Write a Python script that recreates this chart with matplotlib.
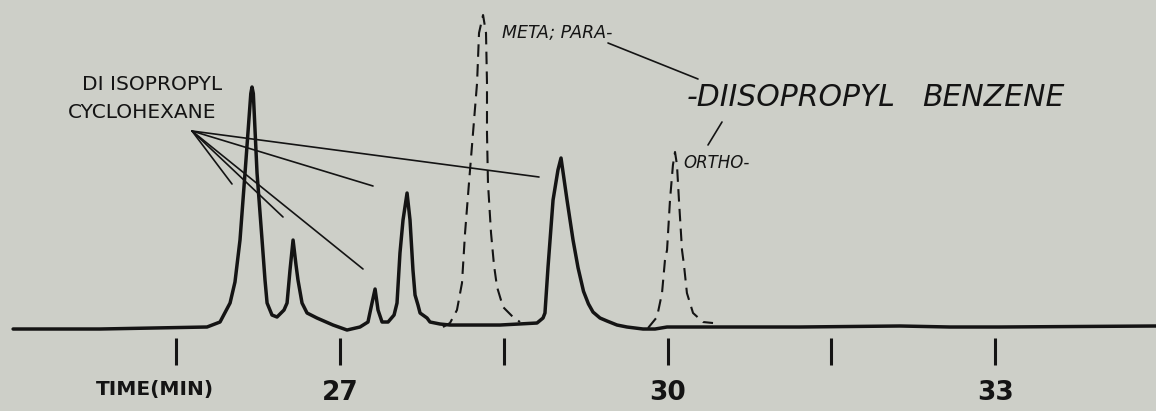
import matplotlib
matplotlib.use("Agg")
import matplotlib.pyplot as plt
from matplotlib.lines import Line2D

# ---- data (time in min, response in % of largest peak) ----
solid_time = [24.006, 24.80, 25.782, 25.901, 25.993, 26.038, 26.084, 26.130, 26.183, 26.194,
              26.206, 26.240, 26.286, 26.313, 26.332, 26.377, 26.423, 26.487, 26.515, 26.542,
              26.570, 26.597, 26.615, 26.652, 26.698, 26.789, 26.936, 27.064, 27.183, 27.256,
              27.293, 27.321, 27.348, 27.385, 27.440, 27.495, 27.522, 27.549, 27.577, 27.614,
              27.641, 27.668, 27.687, 27.714, 27.733, 27.797, 27.824, 27.916, 28.007, 28.465,
              28.804, 28.859, 28.877, 28.905, 28.951, 28.996, 29.024, 29.079, 29.134, 29.180,
              29.230, 29.275, 29.317, 29.381, 29.445, 29.537, 29.628, 29.775, 29.885, 29.995,
              31.212, 32.128, 32.586, 33.044, 34.473]
solid_resp = [0.0, 0.0, 0.64, 2.23, 8.28, 14.97, 28.34, 49.68, 75.0, 77.07,
              75.0, 49.68, 28.34, 15.6, 8.28, 4.46, 3.82, 6.05, 8.28, 18.79,
              28.34, 20.38, 15.6, 8.28, 5.10, 3.50, 1.27, -0.32, 0.64, 2.23,
              8.28, 12.74, 6.05, 2.23, 2.23, 4.46, 8.28, 24.20, 34.71, 43.31,
              34.71, 18.79, 10.83, 7.64, 5.10, 3.50, 2.23, 1.59, 1.27, 1.27,
              1.91, 3.50, 5.10, 19.75, 41.08, 50.64, 54.46, 41.08, 28.34, 19.5,
              12.0, 8.0, 5.4, 3.50, 2.55, 1.27, 0.64, 0.0, 0.0, 0.64,
              0.64, 0.96, 0.64, 0.64, 0.96]

metapara_time = [27.943, 28.007, 28.071, 28.117, 28.145, 28.181, 28.218, 28.255, 28.273, 28.310,
                 28.337, 28.346, 28.346, 28.355, 28.383, 28.410, 28.438, 28.493, 28.584, 28.648]
metapara_resp = [0.64, 1.91, 6.05, 14.65, 30.57, 46.50, 62.42, 78.34, 94.27, 100.0,
                 94.27, 78.34, 62.42, 46.50, 30.57, 20.38, 13.38, 7.01, 3.82, 2.23]

ortho_time = [29.821, 29.903, 29.949, 29.976, 29.995, 30.022, 30.049, 30.068, 30.086, 30.104,
              30.132, 30.150, 30.177, 30.233, 30.324, 30.416]
ortho_resp = [0.32, 3.82, 11.46, 21.97, 25.16, 41.08, 52.23, 56.37, 52.23, 41.08,
              25.16, 20.38, 11.46, 5.10, 2.23, 1.91]

tick_times = [25.5, 27, 28.5, 30, 31.5, 33]
tick_labels = ["", "27", "", "30", "", "33"]

# ---- styling ----
W, H = 1156, 411
BG = "#cdcfc8"
INK = "#141414"
NARROW = ["Liberation Sans Narrow", "DejaVu Sans"]

fig = plt.figure(figsize=(W / 100, H / 100), dpi=100, facecolor=BG)
ax = fig.add_axes([0, 0, 1, 1], facecolor=BG)
ax.set_xlim(23.886, 34.473)
ax.set_ylim(-26.11, 104.78)

ax.plot(solid_time, solid_resp, color=INK, lw=2.5, solid_joinstyle="round",
        solid_capstyle="round")
ax.plot(metapara_time, metapara_resp, color=INK, lw=1.5, linestyle=(0, (6, 3.5)))
ax.plot(ortho_time, ortho_resp, color=INK, lw=1.5, linestyle=(0, (6, 3.5)))

for side in ["top", "left", "right"]:
    ax.spines[side].set_visible(False)
ax.spines["bottom"].set_position(("data", -2.9))
ax.spines["bottom"].set_visible(False)
ax.set_yticks([])
ax.set_xticks(tick_times)
ax.set_xticklabels(tick_labels, fontsize=19, fontweight="bold", color=INK)
ax.tick_params(axis="x", direction="out", length=19.5, width=2.2, color=INK, pad=11)


def px(x, y):
    return (x / W, 1 - y / H)


def leader(p0, p1, lw=1.2):
    (x0, y0), (x1, y1) = px(*p0), px(*p1)
    ax.add_line(Line2D([x0, x1], [y0, y1], transform=ax.transAxes, color=INK, lw=lw,
                       solid_capstyle="round"))


hub = (192, 131)
for end in [(539, 177), (373, 186), (363, 269), (283, 217), (232, 184)]:
    leader(hub, end)
leader((608, 43), (698, 79))
leader((722, 122), (708, 145))


def label(x, y, s, **kw):
    ax.text(*px(x, y), s, transform=ax.transAxes, color=INK, va="baseline", **kw)


label(82, 90, "DI ISOPROPYL", fontsize=14.5, ha="left")
label(68, 118, "CYCLOHEXANE", fontsize=14.5, ha="left")
label(502, 38, "META; PARA-", fontsize=12.5, style="italic", ha="left")
label(687, 106, "-DIISOPROPYL", fontsize=21.5, style="italic", family=NARROW, ha="left")
label(922, 106, "BENZENE", fontsize=21.5, style="italic", family=NARROW, ha="left")
label(683, 168, "ORTHO-", fontsize=12, style="italic", ha="left")
label(155, 395, "TIME(MIN)", fontsize=14.5, fontweight="bold", ha="center")

fig.savefig("out.png", dpi=100, facecolor=BG)
